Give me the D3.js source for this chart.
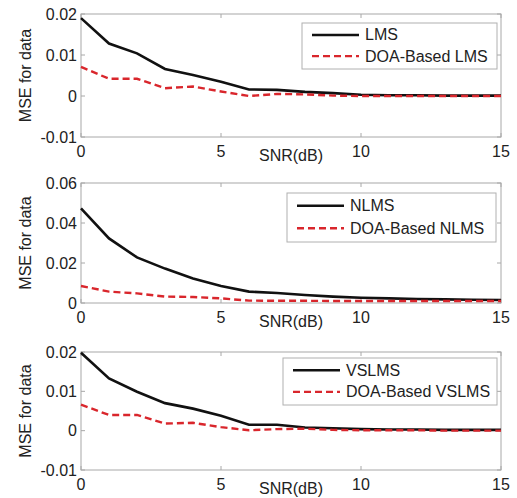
<!DOCTYPE html>
<html><head><meta charset="utf-8">
<script src="https://cdn.jsdelivr.net/npm/d3@7"></script>
<style>
html,body{margin:0;padding:0;background:#fff;}
svg{display:block;font-family:"Liberation Sans",Arial,sans-serif;}
</style></head>
<body>
<svg id="chart" width="517" height="498"></svg>
<script>
const snr = [0,1,2,3,4,5,6,7,8,9,10,11,12,13,14,15];
const xTicks = [0,5,10,15];

const lms      = [0.0190,0.0128,0.0104,0.0066,0.0051,0.0035,0.0016,0.0015,0.0010,0.0007,0.0003,0.0002,0.0002,0.0001,0.0001,0.0001];
const doaLms   = [0.0071,0.0042,0.0042,0.0019,0.0023,0.0011,0.0000,0.0005,0.0004,0.0001,0.0000,0.0000,0.0000,0.0000,0.0000,0.0000];
const nlms     = [0.0473,0.0323,0.0228,0.0172,0.0123,0.0085,0.0057,0.0050,0.0040,0.0032,0.0026,0.0023,0.0020,0.0018,0.0016,0.0015];
const doaNlms  = [0.0085,0.0057,0.0048,0.0032,0.0030,0.0023,0.0012,0.0011,0.0011,0.0010,0.0010,0.0010,0.0010,0.0010,0.0010,0.0010];
const vslms    = [0.0198,0.0133,0.0099,0.0070,0.0056,0.0038,0.0015,0.0015,0.0008,0.0006,0.0004,0.0003,0.0003,0.0002,0.0002,0.0002];
const doaVslms = [0.0066,0.0040,0.0040,0.0018,0.0020,0.0009,0.0001,0.0004,0.0005,0.0002,0.0001,0.0001,0.0001,0.0000,0.0000,0.0000];

const yTicks1 = [-0.01,0,0.01,0.02];
const yTicks2 = [0,0.02,0.04,0.06];
const yTicks3 = [-0.01,0,0.01,0.02];
const yTickLabels1 = ["-0.01","0","0.01","0.02"];
const yTickLabels2 = ["0","0.02","0.04","0.06"];
const yTickLabels3 = ["-0.01","0","0.01","0.02"];

const seriesNames = [["LMS","DOA-Based LMS"],["NLMS","DOA-Based NLMS"],["VSLMS","DOA-Based VSLMS"]];
const xLabel = "SNR(dB)";
const yLabel = "MSE for data";

const panels = [
  {solid: lms, dashed: doaLms, names: seriesNames[0], ticks: yTicks1, labels: yTickLabels1, domain:[-0.01,0.02],
   top:14, bottom:137, legend:{x:302,y:23,w:195,h:46}},
  {solid: nlms, dashed: doaNlms, names: seriesNames[1], ticks: yTicks2, labels: yTickLabels2, domain:[0,0.06],
   top:183, bottom:303, legend:{x:287,y:193,w:209,h:49}},
  {solid: vslms, dashed: doaVslms, names: seriesNames[2], ticks: yTicks3, labels: yTickLabels3, domain:[-0.01,0.02],
   top:352, bottom:470, legend:{x:283,y:358,w:214,h:47}}
];

const svg = d3.select("#chart");
const left = 81, right = 501;
const x = d3.scaleLinear().domain([0,15]).range([left,right]);

panels.forEach(p => {
  const y = d3.scaleLinear().domain(p.domain).range([p.bottom,p.top]);
  const g = svg.append("g");
  // box
  g.append("rect").attr("x",left).attr("y",p.top).attr("width",right-left).attr("height",p.bottom-p.top)
    .attr("fill","#fff").attr("stroke","#a8a8a8").attr("stroke-width",1);
  // ticks (inward, all sides)
  xTicks.forEach(t => {
    g.append("line").attr("x1",x(t)).attr("x2",x(t)).attr("y1",p.bottom).attr("y2",p.bottom-4).attr("stroke","#a8a8a8");
    g.append("line").attr("x1",x(t)).attr("x2",x(t)).attr("y1",p.top).attr("y2",p.top+4).attr("stroke","#a8a8a8");
  });
  p.ticks.forEach(t => {
    g.append("line").attr("x1",left).attr("x2",left+4).attr("y1",y(t)).attr("y2",y(t)).attr("stroke","#a8a8a8");
    g.append("line").attr("x1",right).attr("x2",right-4).attr("y1",y(t)).attr("y2",y(t)).attr("stroke","#a8a8a8");
  });
  // tick labels
  xTicks.forEach(t => {
    g.append("text").attr("x",x(t)).attr("y",p.bottom+20).attr("text-anchor","middle")
      .attr("font-size",16).attr("fill","#222").text(t);
  });
  p.ticks.forEach((t,i) => {
    g.append("text").attr("x",left-4).attr("y",y(t)+5.5).attr("text-anchor","end")
      .attr("font-size",16).attr("fill","#222").text(p.labels[i]);
  });
  // axis labels
  g.append("text").attr("x",(left+right)/2).attr("y",p.bottom+24).attr("text-anchor","middle")
    .attr("font-size",16).attr("fill","#222").text(xLabel);
  g.append("text").attr("transform",`translate(31,${(p.top+p.bottom)/2}) rotate(-90)`)
    .attr("text-anchor","middle").attr("font-size",16).attr("fill","#222").text(yLabel);
  // lines
  const line = d3.line().x((d,i)=>x(snr[i])).y(d=>y(d));
  g.append("path").datum(p.solid).attr("d",line).attr("fill","none").attr("stroke","#111").attr("stroke-width",2.6);
  g.append("path").datum(p.dashed).attr("d",line).attr("fill","none").attr("stroke","#d9262c")
    .attr("stroke-width",2.4).attr("stroke-dasharray","7,4");
  // legend
  const L = p.legend;
  g.append("rect").attr("x",L.x).attr("y",L.y).attr("width",L.w).attr("height",L.h)
    .attr("fill","#fff").attr("stroke","#b0b0b0");
  const r1 = L.y + L.h*0.26, r2 = L.y + L.h*0.72;
  g.append("line").attr("x1",L.x+10).attr("x2",L.x+57).attr("y1",r1).attr("y2",r1).attr("stroke","#111").attr("stroke-width",2.6);
  g.append("line").attr("x1",L.x+10).attr("x2",L.x+57).attr("y1",r2).attr("y2",r2).attr("stroke","#d9262c")
    .attr("stroke-width",2.4).attr("stroke-dasharray","7,4");
  g.append("text").attr("x",L.x+63).attr("y",r1+5.5).attr("font-size",16).attr("fill","#222").text(p.names[0]);
  g.append("text").attr("x",L.x+63).attr("y",r2+5.5).attr("font-size",16).attr("fill","#222").text(p.names[1]);
});
</script>
</body></html>
